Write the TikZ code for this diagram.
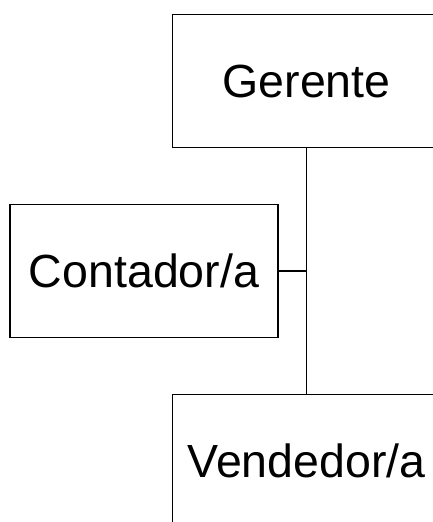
\documentclass[tikz,border=0pt]{standalone}
\usepackage{fontspec}
\setmainfont{Liberation Sans}
\begin{document}
\begin{tikzpicture}[x=1pt,y=1pt,
  box/.style={draw=black, line width=1.8pt, fill=white, rectangle, minimum width=268pt, minimum height=133pt, inner sep=0pt, font=\fontsize{46.5}{50}\selectfont},
  link/.style={draw=black, line width=1.8pt}]
\useasboundingbox (0,0) rectangle (433,-522);
\clip (0,0) rectangle (433,-522);
\node[box] (ger) at (306.5,-81) {Gerente};
\node[box] (cont) at (144,-271) {Contador/a};
\node[box] (vend) at (306.5,-461) {Vendedor/a};
\draw[link] (ger.south) -- (vend.north);
\draw[link] (cont.east) -- (cont.east -| ger.south);
\end{tikzpicture}
\end{document}
